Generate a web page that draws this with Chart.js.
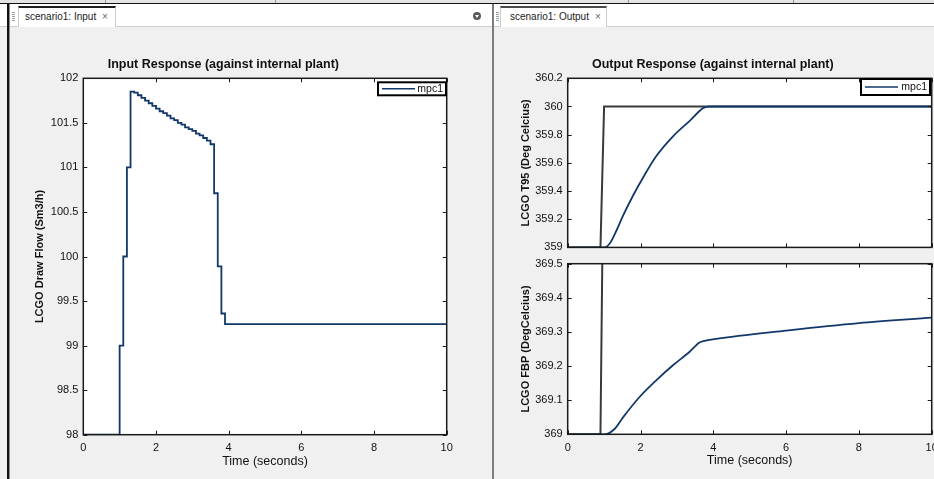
<!DOCTYPE html>
<html>
<head>
<meta charset="utf-8">
<script src="https://cdn.jsdelivr.net/npm/chart.js@4.4.1/dist/chart.umd.min.js"></script>
<style>
  html, body { margin: 0; padding: 0; }
  body {
    width: 934px; height: 479px; overflow: hidden; position: relative;
    background: #f0f0f0; font-family: "Liberation Sans", Arial, sans-serif;
  }
  .abs { position: absolute; }
  #topArea { left: 0; top: 0; width: 934px; height: 3px; background: #e4e4e4; }
  #topLine { left: 0; top: 3px; width: 934px; height: 1px; background: #111; }
  .notch { top: 0; width: 1px; height: 3px; background: #9a9a9a; }
  #strip { left: 0; top: 4px; width: 934px; height: 22px; background: #fff; border-bottom: 1px solid #cfcfcf; }
  .tab { top: 6px; height: 21px; background: #fff; box-sizing: border-box;
         border-left: 1px solid #cdcdcd; border-right: 1px solid #cdcdcd; border-top: 2px solid #1e1e1e; }
  .tabText { top: 11px; font-size: 10px; line-height: 12px; color: #222; white-space: nowrap; }
  .tabClose { top: 11px; font-size: 10px; line-height: 12px; color: #666; }
  .grip { top: 12px; width: 3px; height: 9px;
          background: repeating-linear-gradient(#9c9c9c 0 1px, transparent 1px 2px); }
  #leftBar { left: 7px; top: 4px; width: 2px; height: 475px; background: #111; }
  #leftBar2 { left: 9px; top: 4px; width: 1px; height: 475px; background: #8a8a8a; }
  #divider { left: 492px; top: 4px; width: 2px; height: 475px; background: #7d7d7d; }
  #menuBtn { left: 473px; top: 12px; width: 8px; height: 8px; border-radius: 50%; background: #5a5a5a; }
  #menuBtn::after { content: ""; position: absolute; left: 2px; top: 3px;
                    border-left: 2px solid transparent; border-right: 2px solid transparent; border-top: 3px solid #fff; }
  canvas { position: absolute; }
</style>
</head>
<body>
<div class="abs" id="topArea"></div>
<div class="abs" id="topLine"></div>
<div class="abs notch" style="left:105px"></div>
<div class="abs notch" style="left:275px"></div>
<div class="abs notch" style="left:628px"></div>
<div class="abs notch" style="left:793px"></div>
<div class="abs" id="strip"></div>

<div class="abs grip" style="left:12px"></div>
<div class="abs tab" style="left:18px; width:98px"></div>
<div class="abs tabText" style="left:25px">scenario1: Input</div>
<div class="abs tabClose" style="left:102px">×</div>
<div class="abs" id="menuBtn"></div>

<div class="abs grip" style="left:496px"></div>
<div class="abs tab" style="left:500px; width:107px; border-top-color:#4a4a4a"></div>
<div class="abs tabText" style="left:510px">scenario1: Output</div>
<div class="abs tabClose" style="left:595px">×</div>

<div class="abs" id="leftBar"></div>
<div class="abs" id="leftBar2"></div>
<div class="abs" id="divider"></div>

<canvas id="inputChart" style="left:0px; top:28px" width="480" height="451"></canvas>
<canvas id="t95Chart" style="left:494px; top:28px" width="466" height="231"></canvas>
<canvas id="fbpChart" style="left:494px; top:252px" width="466" height="227"></canvas>

<script>
// Tick positions for the axes
const timeTicks = [0, 2, 4, 6, 8, 10];
const flowTicks = [98, 98.5, 99, 99.5, 100, 100.5, 101, 101.5, 102];
const t95Ticks = [359, 359.2, 359.4, 359.6, 359.8, 360, 360.2];
const fbpTicks = [369, 369.1, 369.2, 369.3, 369.4, 369.5];

// Manipulated variable: LCGO draw flow, held constant between controller moves
const flowTime = [0, 1.0, 1.1, 1.2, 1.3, 1.4, 1.5, 1.6, 1.7, 1.8, 1.9, 2.0, 2.1, 2.2, 2.3,
                  2.4, 2.5, 2.6, 2.7, 2.8, 2.9, 3.0, 3.1, 3.2, 3.3, 3.4, 3.5, 3.6, 3.7, 3.8, 3.9, 10];
const flowValue = [98, 99, 100, 101, 101.85, 101.84, 101.81, 101.78, 101.75, 101.72, 101.69, 101.66,
                   101.63, 101.61, 101.58, 101.55, 101.53, 101.50, 101.48, 101.45, 101.43, 101.41,
                   101.38, 101.36, 101.33, 101.30, 101.26, 100.71, 99.89, 99.36, 99.24, 99.24];

// Setpoint trajectories for both outputs
const setpointTime = [0, 0.9, 1.0, 10];
const t95Setpoint = [359, 359, 360, 360];
const fbpSetpoint = [369, 369, 370, 370];

// Controlled output: LCGO T95
const t95Time = [0, 1.0, 1.16, 1.34, 1.53, 1.80, 2.08, 2.44, 2.90, 3.36, 3.73, 3.90, 10];
const t95Value = [359, 359, 359.03, 359.12, 359.23, 359.37, 359.50, 359.65, 359.79, 359.90, 359.99, 360, 360];

// Controlled output: LCGO FBP
const fbpTime = [0, 1.02, 1.30, 1.53, 1.98, 2.44, 2.90, 3.35, 3.62, 3.76, 4.03, 6, 8, 10];
const fbpValue = [369, 369, 369.017, 369.051, 369.110, 369.159, 369.203, 369.242, 369.269,
                  369.274, 369.279, 369.304, 369.326, 369.342];

const NAVY = '#12386a';
const REF_GRAY = '#3a3a3a';
const FONT = '"Liberation Sans", Arial, Helvetica, sans-serif';

Chart.defaults.font.family = FONT;
Chart.defaults.color = '#111';
Chart.defaults.animation = false;

const pairs = (xs, ys) => xs.map((x, i) => ({ x: x, y: ys[i] }));

// White axes background, boxed frame with inward tick marks on all four sides,
// and an in-plot legend in the upper right corner.
const axesBox = {
  id: 'axesBox',
  beforeDraw(chart) {
    const a = chart.chartArea, ctx = chart.ctx;
    ctx.save();
    ctx.fillStyle = '#ffffff';
    ctx.fillRect(a.left, a.top, a.right - a.left, a.bottom - a.top);
    ctx.restore();
  },
  afterDatasetsDraw(chart, args, opts) {
    const a = chart.chartArea, ctx = chart.ctx;
    const xs = chart.scales.x, ys = chart.scales.y;
    const L = 4;
    ctx.save();
    ctx.strokeStyle = '#1a1a1a';
    ctx.lineWidth = 1;
    ctx.beginPath();
    xs.ticks.forEach(t => {
      const px = Math.round(xs.getPixelForValue(t.value)) + 0.5;
      ctx.moveTo(px, a.bottom); ctx.lineTo(px, a.bottom - L);
      ctx.moveTo(px, a.top); ctx.lineTo(px, a.top + L);
    });
    ys.ticks.forEach(t => {
      const py = Math.round(ys.getPixelForValue(t.value)) + 0.5;
      ctx.moveTo(a.left, py); ctx.lineTo(a.left + L, py);
      ctx.moveTo(a.right, py); ctx.lineTo(a.right - L, py);
    });
    ctx.stroke();
    ctx.lineWidth = 1.5;
    ctx.strokeRect(a.left, a.top, a.right - a.left, a.bottom - a.top);

    if (opts && opts.label) {
      const w = opts.width, h = opts.height;
      const bx = a.right - opts.right - w, by = a.top + opts.top;
      ctx.fillStyle = '#ffffff';
      ctx.fillRect(bx, by, w, h);
      ctx.strokeStyle = '#000';
      ctx.lineWidth = 2;
      ctx.strokeRect(bx, by, w, h);
      const my = by + h / 2;
      ctx.strokeStyle = NAVY;
      ctx.lineWidth = 1.6;
      ctx.beginPath();
      ctx.moveTo(bx + 4, my); ctx.lineTo(bx + 37, my);
      ctx.stroke();
      ctx.fillStyle = '#111';
      ctx.font = '10.5px ' + FONT;
      ctx.textAlign = 'right';
      ctx.textBaseline = 'middle';
      ctx.fillText(opts.label, bx + w - 3, my + 0.5);
    }
    ctx.restore();
  }
};

function timeAxis(showLabels, height, titlePad) {
  return {
    type: 'linear', min: 0, max: 10,
    afterBuildTicks: s => { s.ticks = timeTicks.map(v => ({ value: v })); },
    afterFit: s => { s.height = height; },
    grid: { display: false, drawTicks: false },
    border: { display: false },
    ticks: { display: showLabels, padding: 7, autoSkip: false, maxRotation: 0,
             font: { size: 11 }, color: '#111', callback: v => String(v) },
    title: { display: showLabels, text: 'Time (seconds)', color: '#111',
             font: { size: 12.5 }, padding: { top: 0, bottom: titlePad } }
  };
}

function valueAxis(ticks, width, label, titleOffset) {
  return {
    type: 'linear', min: ticks[0], max: ticks[ticks.length - 1],
    afterBuildTicks: s => { s.ticks = ticks.map(v => ({ value: v })); },
    afterFit: s => { s.width = width; },
    grid: { display: false, drawTicks: false },
    border: { display: false },
    ticks: { padding: 5, autoSkip: false, font: { size: 11 }, color: '#111', callback: v => String(v) },
    title: { display: true, text: label, color: '#111',
             font: { size: 11, weight: 'bold' }, padding: { top: titleOffset, bottom: 0 } }
  };
}

function plotTitle(text) {
  return { display: true, text: text, color: '#111',
           font: { size: 12.5, weight: 'bold' }, padding: { top: 29, bottom: 6.3 } };
}

const lineStyle = (data, color, width, extra) => Object.assign({
  data: data, borderColor: color, backgroundColor: color, borderWidth: width,
  pointRadius: 0, fill: false
}, extra || {});

// Input response
new Chart(document.getElementById('inputChart'), {
  type: 'line',
  data: { datasets: [
    lineStyle(pairs(flowTime, flowValue), NAVY, 1.8, { stepped: 'before', label: 'mpc1' })
  ]},
  options: {
    responsive: false,
    layout: { padding: { left: 0, right: 33.3, top: 0, bottom: 0 } },
    scales: {
      x: timeAxis(true, 44.3, 10),
      y: valueAxis(flowTicks, 83.3, 'LCGO Draw Flow (Sm3/h)', 33.4)
    },
    plugins: {
      legend: { display: false }, tooltip: { enabled: false },
      title: plotTitle('Input Response (against internal plant)'),
      axesBox: { label: 'mpc1', right: 0.7, top: 4, width: 68, height: 13 }
    }
  },
  plugins: [axesBox]
});

// Output response: T95
new Chart(document.getElementById('t95Chart'), {
  type: 'line',
  data: { datasets: [
    lineStyle(pairs(t95Time, t95Value), NAVY, 1.8, { cubicInterpolationMode: 'monotone', label: 'mpc1' }),
    lineStyle(pairs(setpointTime, t95Setpoint), REF_GRAY, 2, { label: 'reference' })
  ]},
  options: {
    responsive: false,
    layout: { padding: { left: 0, right: 28.3, top: 0, bottom: 0 } },
    scales: {
      x: timeAxis(false, 9.7, 0),
      y: valueAxis(t95Ticks, 73.7, 'LCGO T95 (Deg Celcius)', 25.4)
    },
    plugins: {
      legend: { display: false }, tooltip: { enabled: false },
      title: plotTitle('Output Response (against internal plant)'),
      axesBox: { label: 'mpc1', right: 1.7, top: 0.7, width: 69, height: 16 }
    }
  },
  plugins: [axesBox]
});

// Output response: FBP
new Chart(document.getElementById('fbpChart'), {
  type: 'line',
  data: { datasets: [
    lineStyle(pairs(fbpTime, fbpValue), NAVY, 1.8, { cubicInterpolationMode: 'monotone', label: 'mpc1' }),
    lineStyle(pairs(setpointTime, fbpSetpoint), REF_GRAY, 2, { label: 'reference' })
  ]},
  options: {
    responsive: false,
    layout: { padding: { left: 0, right: 28.3, top: 11.7, bottom: 0 } },
    scales: {
      x: timeAxis(true, 44.7, 10.5),
      y: valueAxis(fbpTicks, 73.7, 'LCGO FBP (DegCelcius)', 25.4)
    },
    plugins: { legend: { display: false }, tooltip: { enabled: false }, title: { display: false } }
  },
  plugins: [axesBox]
});
</script>
</body>
</html>
